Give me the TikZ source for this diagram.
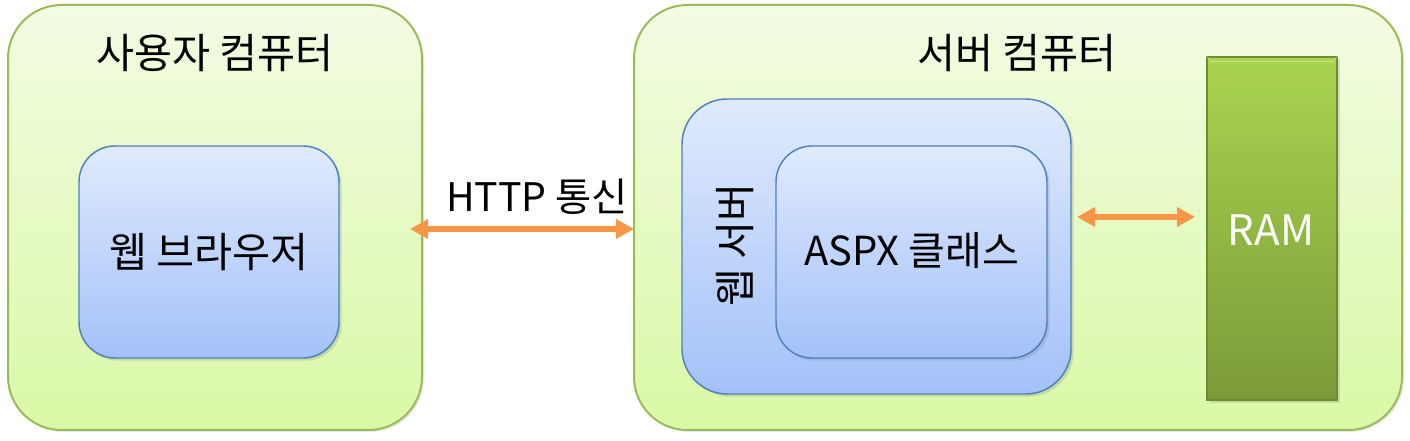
\documentclass[tikz,border=0pt]{standalone}
\usepackage{fontspec}
\setmainfont{Noto Sans CJK KR}
\usetikzlibrary{shadows,arrows.meta}
\definecolor{grnTop}{HTML}{F3FBE3}
\definecolor{grnBot}{HTML}{DAF9A6}
\definecolor{grnLine}{HTML}{9BBB59}
\definecolor{bluTop}{HTML}{E0EAFC}
\definecolor{bluBot}{HTML}{A3C1F9}
\definecolor{bluLine}{HTML}{4F81BD}
\definecolor{ramTop}{HTML}{A9D44F}
\definecolor{ramBot}{HTML}{7C9A39}
\definecolor{ramLine}{HTML}{6F8A32}
\definecolor{arrOr}{HTML}{F79646}
\tikzset{
  outerbox/.style={draw=grnLine, line width=1.5pt, rounded corners=40pt, top color=grnTop, bottom color=grnBot, shading angle=0,
    drop shadow={shadow xshift=1.5pt, shadow yshift=-1.5pt, opacity=0.18}},
  innerbox/.style={draw=bluLine, line width=1.1pt, top color=bluTop, bottom color=bluBot,
    drop shadow={shadow xshift=2pt, shadow yshift=-2pt, opacity=0.25}},
  rambox/.style={draw=ramLine, line width=0.8pt, top color=ramTop, bottom color=ramBot,
    drop shadow={shadow xshift=2pt, shadow yshift=-2pt, opacity=0.25}},
  lbl/.style={font=\fontsize{31}{36}\selectfont, text=black},
  arr/.style={draw=arrOr, line width=4pt, {Triangle[length=13.5pt,width=14pt]}-{Triangle[length=13.5pt,width=14pt]}}
}
\begin{document}
\begin{tikzpicture}[x=0.75pt,y=-0.75pt]
\useasboundingbox[fill=white] (0,0) rectangle (1410,441);
% outer boxes
\node[outerbox, minimum width=310.5pt, minimum height=318.75pt] (usr) at (215,217.5) {};
\node[outerbox, minimum width=576pt, minimum height=318.75pt] (srv) at (1018,217.5) {};
\node[lbl] (usrT) at (215,53) {사용자 컴퓨터};
\node[lbl] (srvT) at (1017,53) {서버 컴퓨터};
% browser
\node[innerbox, rounded corners=27pt, minimum width=195pt, minimum height=159pt] (brw) at (209,252) {};
\node[lbl] (brwT) at (209,252) {웹 브라우저};
% web server
\node[innerbox, rounded corners=34pt, minimum width=291.75pt, minimum height=221.25pt] (ws) at (876.5,246.5) {};
\node[lbl, rotate=90] (wsT) at (735,245) {웹 서버};
\node[innerbox, rounded corners=27pt, minimum width=203.25pt, minimum height=159pt] (aspx) at (911.5,252) {};
\node[lbl, font=\fontsize{30}{36}\selectfont] (aspxT) at (911.5,251) {ASPX 클래스};
% RAM
\node[rambox, minimum width=97.5pt, minimum height=257.25pt] (ram) at (1272,228.5) {};
\draw[white, opacity=0.35, line width=0.6pt] ([xshift=4pt,yshift=-4pt]ram.north west) -- ([xshift=-4pt,yshift=-4pt]ram.north east);
\draw[white, opacity=0.35, line width=0.6pt] (ram.north west) -- ([xshift=4pt,yshift=-4pt]ram.north west);
\draw[white, opacity=0.35, line width=0.6pt] (ram.north east) -- ([xshift=-4pt,yshift=-4pt]ram.north east);
\node[lbl, text=white, font=\fontsize{31.5}{36}\selectfont] (ramT) at (1271,230) {RAM};
% arrows
\coordinate (h1) at (410,229);
\coordinate (h2) at (634,229);
\draw[arr] (h1) -- (h2);
\node[lbl, font=\fontsize{29.5}{36}\selectfont] (httpT) at (537,197) {HTTP 통신};
\coordinate (r1) at (1077,217);
\coordinate (r2) at (1195,217);
\draw[arr] (r1) -- (r2);
\end{tikzpicture}
\end{document}
